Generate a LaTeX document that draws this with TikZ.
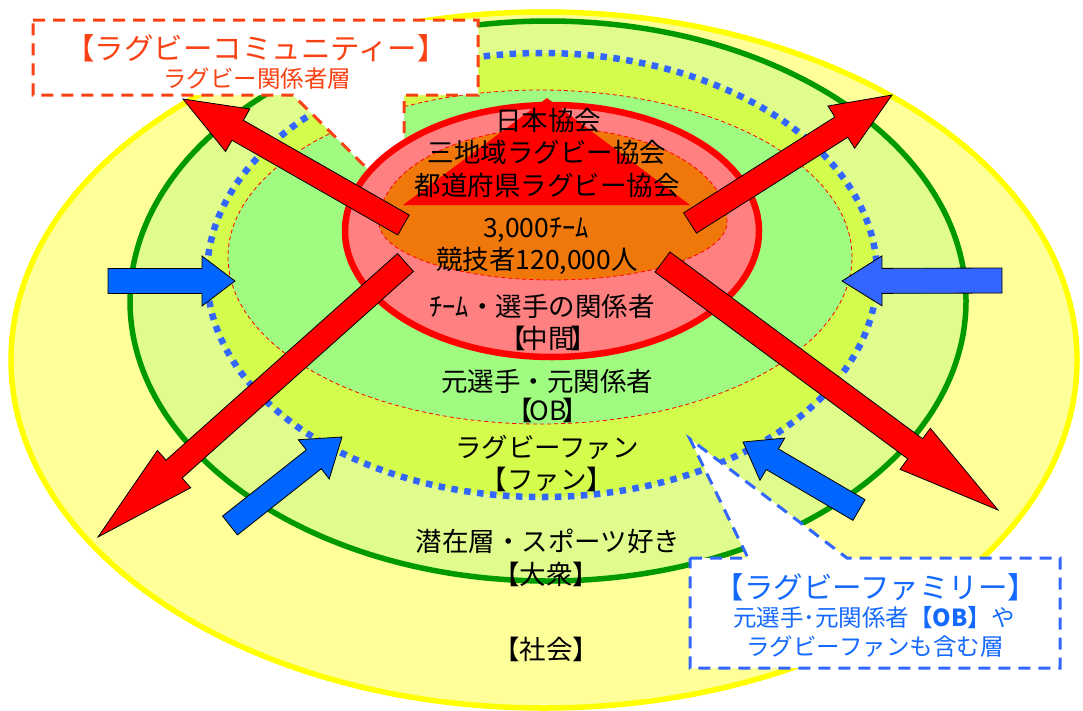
\documentclass[tikz,border=0pt]{standalone}
\usepackage{fontspec}
\setmainfont{Noto Sans CJK JP}
\usetikzlibrary{calc}
\definecolor{soc}{RGB}{255,255,153}
\definecolor{socline}{RGB}{255,255,0}
\definecolor{massfill}{RGB}{224,252,140}
\definecolor{massline}{RGB}{0,153,0}
\definecolor{fanfill}{RGB}{212,252,76}
\definecolor{dotblue}{RGB}{51,102,255}
\definecolor{obfill}{RGB}{160,252,128}
\definecolor{salmon}{RGB}{255,128,128}
\definecolor{orng}{RGB}{240,120,10}
\definecolor{commred}{RGB}{250,65,20}
\definecolor{famblue}{RGB}{20,105,255}
\definecolor{arrblue}{RGB}{0,102,255}
\definecolor{arrbluetwo}{RGB}{51,102,255}
% block arrow: #1 colour, #2 name, #3 tail, #4 tip, #5 shaft half width, #6 head half width, #7 head length
\newcommand\blkarrow[7]{%
  \coordinate (#2-t) at #3;
  \coordinate (#2-p) at #4;
  \coordinate (#2-h) at ($(#2-p)!#7!(#2-t)$);
  \filldraw[blockarrow, fill=#1]
    ($(#2-t)!#5!90:(#2-p)$) -- ($(#2-h)!#5!90:(#2-p)$) -- ($(#2-h)!#6!90:(#2-p)$)
    -- (#2-p)
    -- ($(#2-h)!#6!-90:(#2-p)$) -- ($(#2-h)!#5!-90:(#2-p)$) -- ($(#2-t)!#5!-90:(#2-p)$) -- cycle;
}
\begin{document}
\begin{tikzpicture}[x=1pt,y=-1pt,
  blockarrow/.style={draw=black, line width=0.8pt, line join=miter},
  thindash/.style={draw=red, line width=0.8pt, dash pattern=on 4pt off 3pt},
  commbox/.style={fill=white, draw=commred, line width=3pt, dash pattern=on 12pt off 8pt},
  fambox/.style={fill=white, draw=dotblue, line width=3pt, dash pattern=on 12pt off 8pt},
  lbl/.style={font=\fontsize{26.5}{30}\selectfont, inner sep=0pt, anchor=center, text=black},
  ttl/.style={font=\fontsize{29.5}{33}\selectfont, inner sep=0pt, anchor=center},
  sub/.style={font=\fontsize{23.5}{27}\selectfont, inner sep=0pt, anchor=center}]
\useasboundingbox (0,0) rectangle (1083,710);
\clip (0,0) rectangle (1083,710);

% society
\filldraw[fill=soc, draw=socline, line width=5.5pt] (544,360) ellipse [x radius=533pt, y radius=348pt];
% mass
\filldraw[fill=massfill, draw=massline, line width=5.5pt] (548,301) ellipse [x radius=418pt, y radius=280pt];
% fans (rugby family boundary)
\fill[fanfill] (542,275) ellipse [x radius=335pt, y radius=222pt];
\draw[dotblue, line width=6.5pt, dash pattern=on 6.5pt off 6.5pt] (542,275) ellipse [x radius=335pt, y radius=222pt];
% OB
\filldraw[fill=obfill, thindash] (540,257) ellipse [x radius=312pt, y radius=167pt];

% callouts
\draw[commbox] (33,20) -- (478,20) -- (478,95) -- (404,95) -- (404,205) -- (293,95) -- (33,95) -- cycle;
\draw[fambox] (690,558) -- (748,558) -- (690,439) -- (847,558) -- (1060,558) -- (1060,668) -- (690,668) -- cycle;

% core
\filldraw[fill=salmon, draw=red, line width=6.5pt] (552,231) ellipse [x radius=207pt, y radius=126pt];
\fill[orng] (379,222) arc[start angle=180, end angle=0, x radius=174pt, y radius=94pt]
  arc[start angle=0, end angle=-180, x radius=174pt, y radius=58pt] -- cycle;
\draw[thindash] (379,222) arc[start angle=180, end angle=0, x radius=174pt, y radius=94pt]
  arc[start angle=0, end angle=-180, x radius=174pt, y radius=58pt] -- cycle;
\fill[red] (547,98) -- (690,205) -- (403,205) -- cycle;

% arrows
\blkarrow{red}{rul}{(403.5,225)}{(183,99)}{11.5pt}{24.5pt}{63pt}
\blkarrow{red}{rur}{(690,223)}{(892,95)}{12pt}{25pt}{60pt}
\blkarrow{red}{rll}{(405.5,262.5)}{(98,537)}{12pt}{25pt}{102pt}
\blkarrow{red}{rlr}{(662.5,262)}{(998,510)}{12.5pt}{25.5pt}{103pt}
\blkarrow{arrblue}{bl}{(108,281)}{(235,281)}{12.5pt}{25pt}{33pt}
\blkarrow{arrbluetwo}{br}{(1002,280.5)}{(842,281)}{12.5pt}{25pt}{40pt}
\blkarrow{arrblue}{bll}{(230,525.5)}{(342,437)}{12pt}{25pt}{36pt}
\blkarrow{arrblue}{blr}{(859,510)}{(743,442)}{12pt}{24.5pt}{34pt}

% texts
\node[lbl] (t1) at (548,120) {日本協会};
\node[lbl] (t2) at (547,152) {三地域ラグビー協会};
\node[lbl] (t3) at (547,185) {都道府県ラグビー協会};
\node[lbl] (t4) at (536,230) {3,000ﾁｰﾑ};
\node[lbl] (t5) at (537,261) {競技者120,000人};
\node[lbl] (t6) at (542,306) {ﾁｰﾑ・選手の関係者};
\node[lbl] (t7) at (548,338) {【\kern-4pt 中間\kern-4pt 】};
\node[lbl] (t8) at (547,381) {元選手・元関係者};
\node[lbl] (t9) at (548,410) {【\kern-4pt OB\kern-4pt 】};
\node[lbl] (t10) at (547,447) {ラグビーファン};
\node[lbl] (t11) at (547,479) {【ファン】};
\node[lbl] (t12) at (548,541) {潜在層・スポーツ好き};
\node[lbl] (t13) at (546,574) {【大衆】};
\node[lbl] (t14) at (546,649) {【社会】};

\node[ttl, text=commred] (c1) at (256,48) {【ラグビーコミュニティー】};
\node[sub, text=commred] (c2) at (257,79) {ラグビー関係者層};

\node[ttl, text=famblue] (f1) at (876,587) {【ラグビーファミリー】};
\node[sub, text=famblue] (f2) at (874,618) {元選手･元関係者\textbf{【OB】}や};
\node[sub, text=famblue] (f3) at (875,647) {ラグビーファンも含む層};
\end{tikzpicture}
\end{document}
